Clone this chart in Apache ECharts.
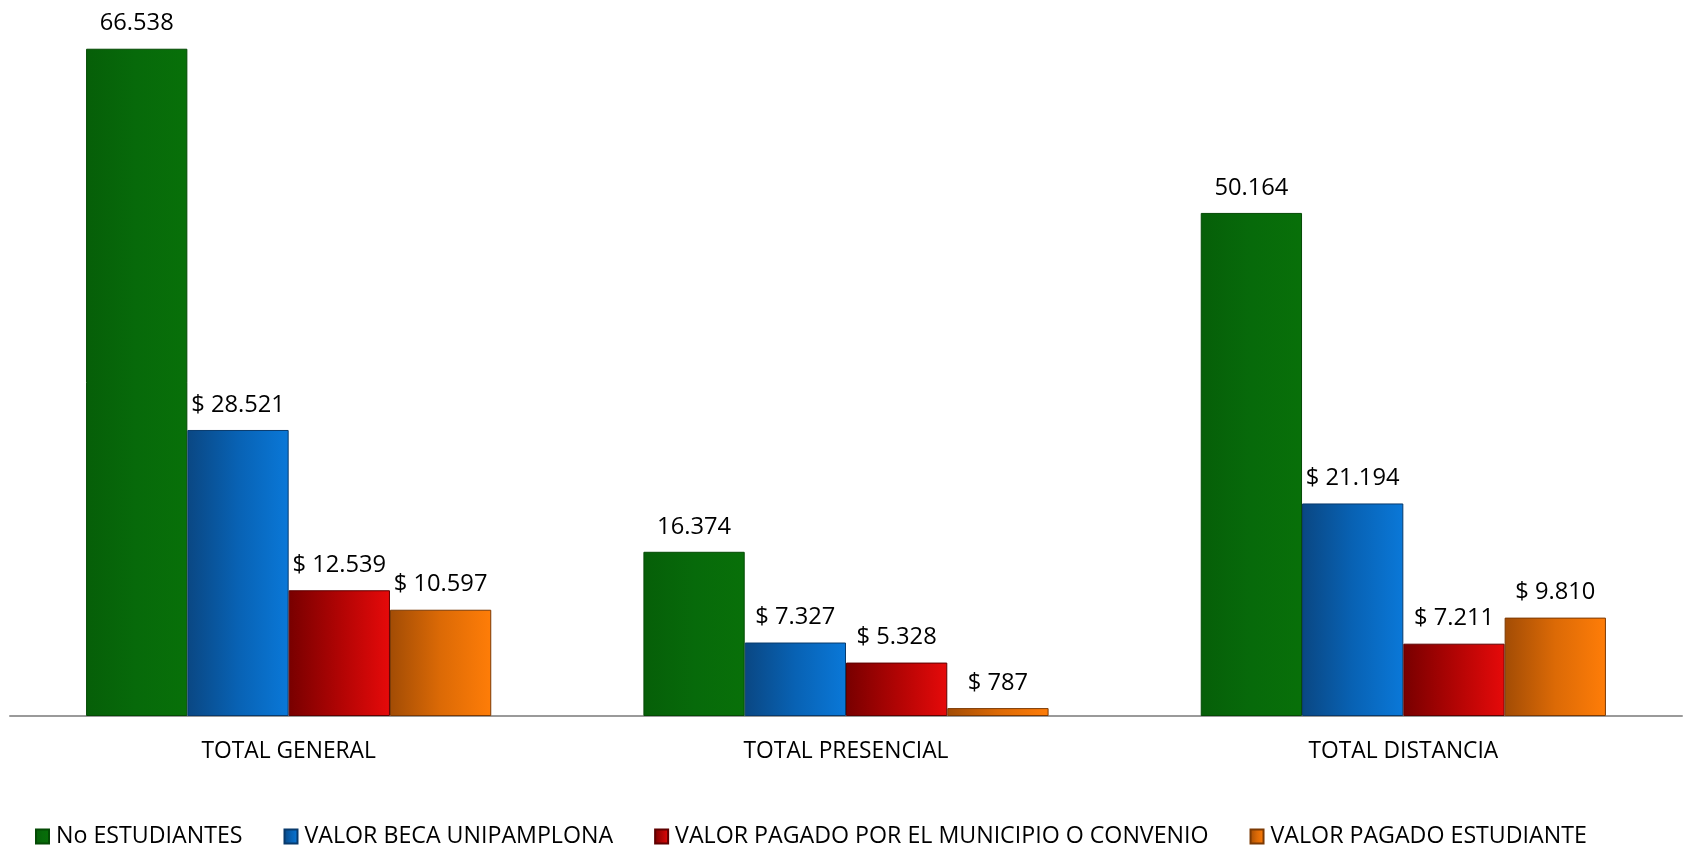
<!DOCTYPE html>
<html>
<head>
<meta charset="utf-8">
<script src="https://cdn.jsdelivr.net/npm/echarts@6/dist/echarts.min.js"></script>
<style>
html,body{margin:0;padding:0;background:#fff;}
#chart{width:1688px;height:848px;}
</style>
</head>
<body>
<div id="chart"></div>
<script>
const categories = ['TOTAL GENERAL', 'TOTAL PRESENCIAL', 'TOTAL DISTANCIA'];
const seriesNames = ['No ESTUDIANTES', 'VALOR BECA UNIPAMPLONA', 'VALOR PAGADO POR EL MUNICIPIO O CONVENIO', 'VALOR PAGADO ESTUDIANTE'];
const noEstudiantes = [66538, 16374, 50164];
const valorBeca = [28521, 7327, 21194];
const valorMunicipio = [12539, 5328, 7211];
const valorEstudiante = [10597, 787, 9810];

const FONT = 'Open Sans';

function fmt(v) {
  return String(v).replace(/\B(?=(\d{3})+(?!\d))/g, '.');
}
function grad(c1, c2, c3) {
  return new echarts.graphic.LinearGradient(0, 0, 1, 0, [
    { offset: 0, color: c1 },
    { offset: 0.5, color: c2 },
    { offset: 1, color: c3 }
  ]);
}
const styles = [
  { color: grad('#065f08', '#076a0a', '#087009'), border: '#044a05', prefix: '' },
  { color: grad('#0a4783', '#0862b4', '#0a78d8'), border: '#083a6c', prefix: '$ ' },
  { color: grad('#780000', '#b00404', '#e60a0a'), border: '#5e0000', prefix: '$ ' },
  { color: grad('#a24c05', '#dc6a06', '#ff7d08'), border: '#7c3a04', prefix: '$ ' }
];
const dataSets = [noEstudiantes, valorBeca, valorMunicipio, valorEstudiante];

const chart = echarts.init(document.getElementById('chart'));
chart.setOption({
  backgroundColor: '#ffffff',
  animation: false,
  grid: { left: 10, right: 6, top: 14, bottom: 132, containLabel: false },
  legend: {
    left: 30,
    top: 820,
    itemWidth: 13,
    itemHeight: 14,
    itemGap: 41,
    icon: 'rect',
    textStyle: { fontFamily: FONT, fontSize: 23.2, color: '#000', padding: [0, 0, 0, 2] },
    data: seriesNames
  },
  xAxis: {
    type: 'category',
    data: categories,
    axisLine: { show: true, lineStyle: { color: '#9a9a9a', width: 2 } },
    axisTick: { show: false },
    axisLabel: { margin: 24, fontFamily: FONT, fontSize: 22.8, color: '#000' }
  },
  yAxis: {
    type: 'value',
    min: 0,
    max: 70000,
    show: false,
    splitLine: { show: false }
  },
  series: dataSets.map((d, i) => ({
    name: seriesNames[i],
    type: 'bar',
    data: d,
    barGap: '0%',
    barCategoryGap: '27.3%',
    itemStyle: { color: styles[i].color, borderColor: styles[i].border, borderWidth: 1 },
    label: {
      show: true,
      position: 'top',
      distance: 13,
      fontFamily: FONT,
      fontSize: 23.7,
      color: '#000',
      formatter: p => styles[i].prefix + fmt(p.value)
    }
  }))
});
</script>
</body>
</html>
